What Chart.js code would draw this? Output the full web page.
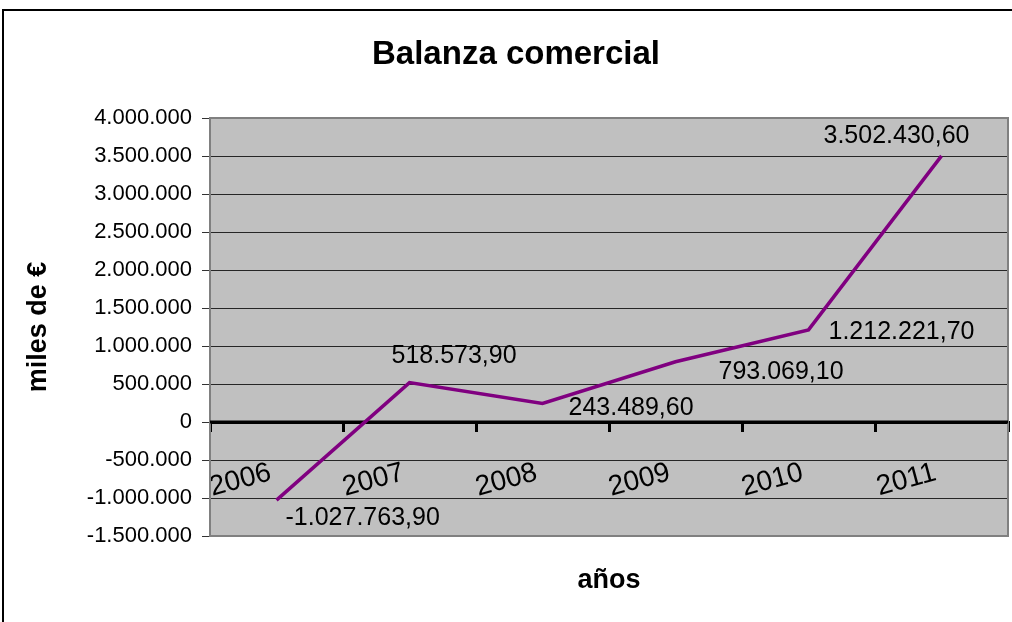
<!DOCTYPE html>
<html>
<head>
<meta charset="utf-8">
<script src="https://cdn.jsdelivr.net/npm/chart.js@4/dist/chart.umd.min.js"></script>
<style>
  html, body { margin: 0; padding: 0; overflow: hidden; background: #fff; }
  #myChart { display: block; }
</style>
</head>
<body>
<canvas id="myChart" width="1012" height="622"></canvas>
<script>
let years = ['2006', '2007', '2008', '2009', '2010', '2011']
let balanza = [-1027763.90, 518573.90, 243489.60, 793069.10, 1212221.70, 3502430.60]
let yMin = -1500000
let yMax = 4000000
let yStep = 500000

// where each value label sits, relative to its point (left edge, middle)
let labelOffsets = [[9, 18], [-18, -26], [26, 5], [43, 10], [20, 2], [-118, -20]]

let fontName = "'Liberation Sans', Arial, sans-serif"

let fmtEs = function(v, dec){
  let neg = v < 0
  let s = Math.abs(v).toFixed(dec)
  let parts = s.split('.')
  let ent = parts[0].replace(/\B(?=(\d{3})+(?!\d))/g, '.')
  return (neg ? '-' : '') + ent + (parts[1] ? ',' + parts[1] : '')
}

let plotBox = {
  id: 'plotBox',
  beforeDraw(chart){
    let ctx = chart.ctx
    let a = chart.chartArea
    ctx.save()
    ctx.fillStyle = '#ffffff'
    ctx.fillRect(0, 0, chart.width, chart.height)
    ctx.strokeStyle = '#000000'
    ctx.lineWidth = 2
    ctx.strokeRect(3, 10, 1028, 700)
    ctx.fillStyle = '#c0c0c0'
    ctx.fillRect(a.left, a.top, a.right - a.left, a.bottom - a.top)
    ctx.restore()
  },
  beforeDatasetsDraw(chart){
    let ctx = chart.ctx
    let a = chart.chartArea
    ctx.save()
    ctx.strokeStyle = '#808080'
    ctx.lineWidth = 2
    ctx.strokeRect(a.left, a.top, a.right - a.left, a.bottom - a.top)
    // keep the zero axis on top of the border
    let y0 = chart.scales.y.getPixelForValue(0)
    ctx.strokeStyle = '#000000'
    ctx.lineWidth = 3
    ctx.beginPath()
    ctx.moveTo(a.left, y0)
    ctx.lineTo(a.right, y0)
    ctx.stroke()
    ctx.restore()
  }
}

let valueLabels = {
  id: 'valueLabels',
  afterDatasetsDraw(chart){
    let ctx = chart.ctx
    let meta = chart.getDatasetMeta(0)
    ctx.save()
    ctx.font = '25px ' + fontName
    ctx.fillStyle = '#000000'
    ctx.textAlign = 'left'
    ctx.textBaseline = 'middle'
    meta.data.forEach(function(pt, i){
      let off = labelOffsets[i]
      ctx.fillText(fmtEs(balanza[i], 2), pt.x + off[0], pt.y + off[1])
    })
    ctx.restore()
  }
}

let cur_chart = new Chart(
  document.getElementById('myChart'),
  {
    type: 'line',
    data: {
      labels: years,
      datasets: [
        {
          label: 'Balanza comercial',
          data: balanza,
          borderColor: '#800080',
          borderWidth: 3.5,
          pointRadius: 0,
          tension: 0,
          fill: false
        }
      ]
    },
    options: {
      responsive: false,
      animation: false,
      layout: { padding: { left: 24, right: 4, top: 0, bottom: 0 } },
      plugins: {
        legend: { display: false },
        tooltip: { enabled: false },
        title: {
          display: true,
          text: 'Balanza comercial',
          color: '#000000',
          font: { family: fontName, size: 33, weight: 'bold' },
          padding: { top: 35, bottom: 43.4 }
        }
      },
      scales: {
        x: {
          type: 'category',
          position: { y: 0 },
          offset: true,
          grid: {
            offset: true,
            drawOnChartArea: false,
            drawTicks: true,
            tickLength: 8,
            tickColor: '#000000',
            lineWidth: 3
          },
          border: { display: true, color: '#000000', width: 3 },
          ticks: {
            autoSkip: false,
            minRotation: 15,
            maxRotation: 15,
            padding: 26,
            labelOffset: -6,
            color: '#000000',
            font: { family: fontName, size: 28 }
          }
        },
        x2: {
          type: 'category',
          axis: 'x',
          position: 'bottom',
          offset: true,
          grid: { display: false, drawTicks: false },
          border: { display: false },
          ticks: { display: false },
          title: {
            display: true,
            text: 'años',
            color: '#000000',
            font: { family: fontName, size: 27, weight: 'bold' },
            padding: { top: 28, bottom: 25.6 }
          }
        },
        y: {
          min: yMin,
          max: yMax,
          afterFit(scale){ scale.width = 186 },
          border: { display: false },
          grid: {
            color: '#262626',
            lineWidth: 1,
            tickLength: 8,
            tickColor: '#333333'
          },
          ticks: {
            stepSize: yStep,
            padding: 10,
            color: '#000000',
            font: { family: fontName, size: 22 },
            callback: function(v){ return fmtEs(v, 0) }
          },
          title: {
            display: true,
            text: 'miles de €',
            color: '#000000',
            font: { family: fontName, size: 27, weight: 'bold' },
            padding: { top: -2, bottom: 0 }
          }
        }
      }
    },
    plugins: [plotBox, valueLabels]
  }
)
</script>
</body>
</html>
